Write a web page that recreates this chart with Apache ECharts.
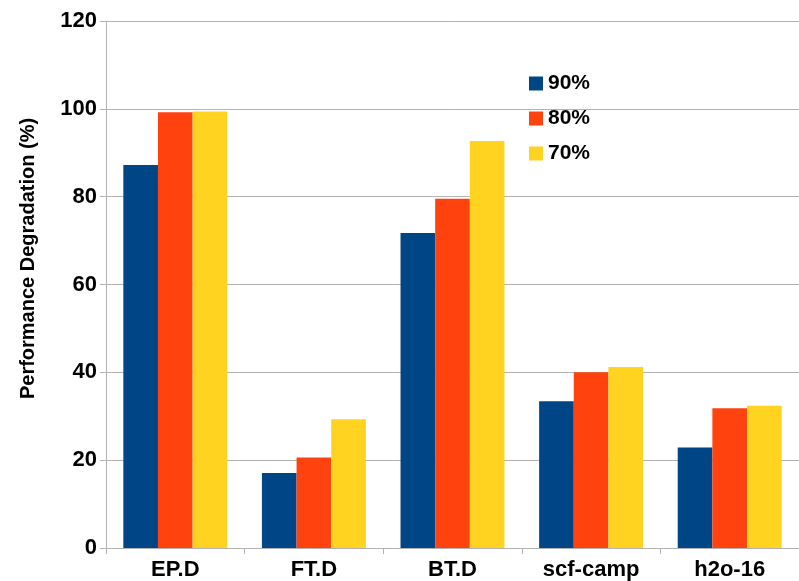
<!DOCTYPE html>
<html>
<head>
<meta charset="utf-8">
<script src="https://cdn.jsdelivr.net/npm/echarts@6/dist/echarts.min.js"></script>
<style>
  html, body { margin: 0; padding: 0; background: #fff; }
  #chart { width: 799px; height: 581px; }
</style>
</head>
<body>
<div id="chart"></div>
<script>
// benchmarks on the x axis
var categories = ['EP.D', 'FT.D', 'BT.D', 'scf-camp', 'h2o-16'];
// performance degradation (%) per threshold
var s90 = [87.2, 17.1, 71.7, 33.4, 22.9];
var s80 = [99.2, 20.6, 79.5, 40.0, 31.8];
var s70 = [99.4, 29.3, 92.7, 41.2, 32.4];
var seriesNames = ['90%', '80%', '70%'];
var yTicks = [0, 20, 40, 60, 80, 100, 120];

var colors = ['#004586', '#ff420e', '#ffd320'];
var font = '"Liberation Sans", Arial, sans-serif';

var chart = echarts.init(document.getElementById('chart'));

function bar(name, data, i) {
  return {
    name: name,
    type: 'bar',
    data: data,
    barGap: '0%',
    barCategoryGap: '25%',
    itemStyle: { color: colors[i] },
    animation: false
  };
}

var option = {
  color: colors,
  grid: { left: 106, top: 21, bottom: 33, right: -5 },
  legend: {
    orient: 'vertical',
    left: 529,
    top: 73,
    padding: 0,
    itemWidth: 14,
    itemHeight: 14,
    itemGap: 14,
    itemStyle: { borderWidth: 0 },
    icon: 'rect',
    textStyle: { fontFamily: font, fontSize: 21, fontWeight: 'bold', color: '#000' },
    data: seriesNames
  },
  xAxis: {
    type: 'category',
    data: categories,
    axisLine: { lineStyle: { color: '#b3b3b3', width: 1 } },
    axisTick: { show: true, length: 6, lineStyle: { color: '#b3b3b3' } },
    axisLabel: { fontFamily: font, fontSize: 22, fontWeight: 'bold', color: '#000', margin: 11 }
  },
  yAxis: {
    type: 'value',
    min: yTicks[0],
    max: yTicks[yTicks.length - 1],
    interval: 20,
    name: 'Performance Degradation (%)',
    nameLocation: 'middle',
    nameGap: 68,
    nameTextStyle: { fontFamily: font, fontSize: 20, fontWeight: 'bold', color: '#000', padding: [0, 0, 0, 52] },
    axisLine: { show: true, lineStyle: { color: '#b3b3b3', width: 1 } },
    axisTick: { show: true, length: 6, lineStyle: { color: '#b3b3b3' } },
    axisLabel: { fontFamily: font, fontSize: 22, fontWeight: 'bold', color: '#000', margin: 9 },
    splitLine: { show: true, lineStyle: { color: '#b3b3b3', width: 1 } }
  },
  series: [
    bar(seriesNames[0], s90, 0),
    bar(seriesNames[1], s80, 1),
    bar(seriesNames[2], s70, 2)
  ]
};
chart.setOption(option);
</script>
</body>
</html>
